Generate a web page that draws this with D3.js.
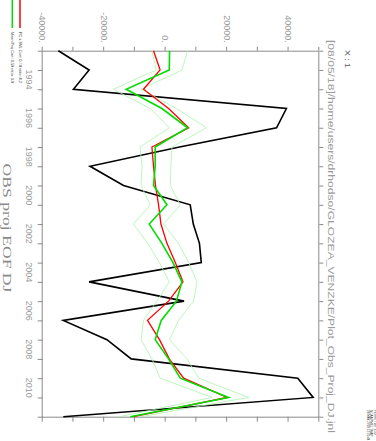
<!DOCTYPE html>
<html>
<head>
<meta charset="utf-8">
<script src="https://cdn.jsdelivr.net/npm/d3@7"></script>
<style>
  body { margin: 0; background: #fff; }
  .axis path, .axis line { stroke: #8a8a8a; }
  .axis text { fill: #9a9a9a; font-family: 'Liberation Sans', sans-serif; font-size: 9px; }
</style>
</head>
<body>
<div id="chart"></div>
<script>
// Data (one value per year, DJ means)
var years = [1993, 1994, 1995, 1996, 1997, 1998, 1999, 2000, 2001, 2002,
             2003, 2004, 2005, 2006, 2007, 2008, 2009, 2010, 2011, 2012];

var obs = [-34900, -24900, -30000, 39300, 36100, 4500, -24600, -13700, 8000, 9000,
           11000, 11600, -24900, 6000, -33300, -19100, -11200, 43000, 48000, -33300];

var pcSvl = [-3940, -1800, -7200, 950, 7500, -4460, -3940, -3300, -2300, -1530,
             430, 3140, 5650, 950, -5900, -2000, 1180, 5850, 20000, -10460];

var meanProj = [1280, 1180, -12840, -1200, 7150, -3400, -3400, -3940, 430, -5340,
                -1200, 2390, 5300, 3500, -1430, -3400, 950, 4770, 20500, -11500];

var projLow = [-4460, -3000, -17000, -5000, 1200, -8300, -7700, -8000, -5000, -10450,
               -5800, -2000, 1200, -2830, -7200, -8000, -4460, -1750, 15100, -15000];

var projHigh = [7150, 5330, -8000, 3500, 13300, 2060, 1730, 1500, 4770, -670,
                4200, 7480, 10200, 9100, 4200, 1280, 6950, 10740, 27040, -8000];

var yearLabels = [1994, 1996, 1998, 2000, 2002, 2004, 2006, 2008, 2010];
var valueTicks = [-40000, -30000, -20000, -10000, 0, 10000, 20000, 30000, 40000, 50000];

var legendRows = [
  { text: 'PC x SVL  Corr: 0.74  ratio: 4.2', color: '#ff0000' },
  { text: 'Mean Proj  Corr: 0.59  ratio: 3.9', color: '#00dd00' }
];

var W = 376, H = 441;

var svg = d3.select('#chart')
            .append('svg')
            .attr('width', W)
            .attr('height', H);

svg.append('rect').attr('width', W).attr('height', H).attr('fill', '#fff');

// the whole plot is laid out landscape, then turned a quarter clockwise
var g = svg.append('g')
           .attr('transform', 'translate(' + W + ',0) rotate(90)');

// Scales
var x = d3.scaleLinear()
          .domain([1993, 2012])
          .range([50.7, 416.7]);

var y = d3.scaleLinear()
          .domain([-40000, 50000])
          .range([333.3, 56.7]);

// Axes
g.append('g')
 .attr('class', 'axis')
 .attr('transform', 'translate(0,' + y(-40000) + ')')
 .call(d3.axisBottom(x).tickValues(years).tickSize(5).tickSizeOuter(0).tickFormat(''));

g.append('g')
 .attr('class', 'axis')
 .attr('transform', 'translate(0,' + y(50000) + ')')
 .call(d3.axisTop(x).tickValues(years).tickSize(4).tickSizeOuter(0).tickFormat(''));

g.append('g')
 .attr('class', 'axis')
 .attr('transform', 'translate(' + x(1993) + ',0)')
 .call(d3.axisLeft(y).tickValues(valueTicks).tickSize(4).tickPadding(4).tickSizeOuter(0)
         .tickFormat(function(d) { return d % 20000 === 0 && d < 50000 ? d + '.' : ''; }));

g.append('g')
 .attr('class', 'axis')
 .attr('transform', 'translate(' + x(2012) + ',0)')
 .call(d3.axisRight(y).tickValues(valueTicks).tickSize(5).tickSizeOuter(0).tickFormat(''));

g.selectAll('.axis path').attr('stroke', '#8a8a8a');

// Year labels sit in the middle of each year
g.selectAll('.year-label')
 .data(yearLabels)
 .enter()
 .append('text')
 .attr('class', 'year-label')
 .attr('x', function(d) { return x(d + 0.5); })
 .attr('y', 350)
 .attr('text-anchor', 'middle')
 .attr('fill', '#9a9a9a')
 .style('font-family', "'Liberation Sans', sans-serif")
 .style('font-size', '9px')
 .text(function(d) { return d; });

// Lines
function series(values) {
  return values.map(function(v, i) { return { year: years[i], value: v }; });
}

var line = d3.line()
             .x(function(d) { return x(d.year); })
             .y(function(d) { return y(d.value); });

var lines = [
  { values: obs, color: '#000000', width: 1.6 },
  { values: projLow, color: '#aaf5aa', width: 0.8 },
  { values: projHigh, color: '#aaf5aa', width: 0.8 },
  { values: pcSvl, color: '#ff0000', width: 1.3 },
  { values: meanProj, color: '#00dd00', width: 1.6 }
];

g.selectAll('.series')
 .data(lines)
 .enter()
 .append('path')
 .attr('class', 'series')
 .attr('fill', 'none')
 .attr('stroke', function(d) { return d.color; })
 .attr('stroke-width', function(d) { return d.width; })
 .attr('stroke-linejoin', 'miter')
 .attr('d', function(d) { return line(series(d.values)); });

// Legend (below the plot before turning)
legendRows.forEach(function(row, i) {
  var v = 356 + i * 7.7;
  g.append('line')
   .attr('x1', 0).attr('x2', 28)
   .attr('y1', v).attr('y2', v)
   .attr('stroke', row.color)
   .attr('stroke-width', 1.5);
  g.append('text')
   .attr('x', 32)
   .attr('y', v + 1.5)
   .attr('textLength', 51)
   .attr('lengthAdjust', 'spacingAndGlyphs')
   .attr('fill', '#333')
   .style('font-family', "'Liberation Sans', sans-serif")
   .style('font-size', '4.2px')
   .text(row.text);
});

// Title, right at the page edge as in the original
g.append('text')
 .attr('x', 228)
 .attr('y', 373)
 .attr('text-anchor', 'middle')
 .attr('textLength', 129)
 .attr('lengthAdjust', 'spacingAndGlyphs')
 .attr('fill', '#8a8a8a')
 .style('font-family', "'Liberation Serif', serif")
 .style('font-size', '13px')
 .text('OBS proj EOF DJ');

// Journal path and header labels
g.append('text')
 .attr('x', 40)
 .attr('y', 48)
 .attr('textLength', 393)
 .attr('lengthAdjust', 'spacingAndGlyphs')
 .attr('fill', '#9a9a9a')
 .style('font-family', "'Liberation Sans', sans-serif")
 .style('font-size', '9.5px')
 .text('[08/05/18]/home/users/drhodso/GLOZEA_VENZKE/Plot_Obs_Proj_DJ.jnl');

g.append('text')
 .attr('x', 50)
 .attr('y', 31)
 .attr('textLength', 18)
 .attr('lengthAdjust', 'spacingAndGlyphs')
 .attr('fill', '#555')
 .style('font-family', "'Liberation Sans', sans-serif")
 .style('font-size', '7px')
 .text('X : 1');

['FERRET Ver. 6.93', 'NOAA/PMEL TMAP', '08-MAY-2018 12:05:44'].forEach(function(t, i) {
  g.append('text')
   .attr('x', 410)
   .attr('y', 2.5 + i * 3.4)
   .attr('fill', '#444')
   .style('font-family', "'Liberation Sans', sans-serif")
   .style('font-size', '3px')
   .text(t);
});
</script>
</body>
</html>
